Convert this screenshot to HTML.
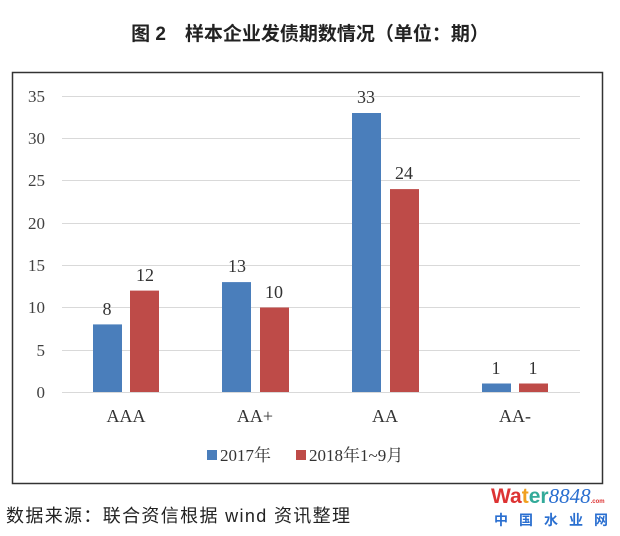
<!DOCTYPE html>
<html><head><meta charset="utf-8"><style>
body{margin:0;background:#fff;width:620px;height:536px;overflow:hidden;position:relative;font-family:"Liberation Serif","Noto Serif CJK SC",serif}
</style></head><body>
<svg width="620" height="536" style="position:absolute;left:0;top:0">
<text x="310" y="40" text-anchor="middle" font-family="Liberation Sans,Noto Sans CJK SC,sans-serif" font-weight="bold" font-size="19" fill="#222">图 2　样本企业发债期数情况（单位：期）</text>
<rect x="12.5" y="72.5" width="590" height="411" fill="none" stroke="#333" stroke-width="1.5"/>
<g stroke="#d9d9d9" stroke-width="1">
<line x1="62" x2="580" y1="96.5" y2="96.5"/><line x1="62" x2="580" y1="138.5" y2="138.5"/>
<line x1="62" x2="580" y1="180.5" y2="180.5"/><line x1="62" x2="580" y1="223.5" y2="223.5"/>
<line x1="62" x2="580" y1="265.5" y2="265.5"/><line x1="62" x2="580" y1="307.5" y2="307.5"/>
<line x1="62" x2="580" y1="350.5" y2="350.5"/><line x1="62" x2="580" y1="392.5" y2="392.5"/>
</g>
<g font-size="17" fill="#404040" text-anchor="end">
<text x="45" y="102">35</text><text x="45" y="144">30</text><text x="45" y="186">25</text><text x="45" y="229">20</text>
<text x="45" y="271">15</text><text x="45" y="313">10</text><text x="45" y="356">5</text><text x="45" y="398">0</text>
</g>
<g fill="#4a7ebb">
<rect x="93" y="324.4" width="29" height="67.6"/><rect x="222" y="282.1" width="29" height="109.9"/>
<rect x="352" y="113" width="29" height="279"/><rect x="482" y="383.5" width="29" height="8.5"/>
</g>
<g fill="#be4b48">
<rect x="130" y="290.6" width="29" height="101.4"/><rect x="260" y="307.5" width="29" height="84.5"/>
<rect x="390" y="189.1" width="29" height="202.9"/><rect x="519" y="383.5" width="29" height="8.5"/>
</g>
<g font-size="18" fill="#333" text-anchor="middle">
<text x="107" y="315">8</text><text x="145" y="281">12</text>
<text x="237" y="272">13</text><text x="274" y="298">10</text>
<text x="366" y="103">33</text><text x="404" y="179">24</text>
<text x="496" y="374">1</text><text x="533" y="374">1</text>
</g>
<g font-size="18" fill="#333" text-anchor="middle">
<text x="126" y="422">AAA</text><text x="255" y="422">AA+</text><text x="385" y="422">AA</text><text x="515" y="422">AA-</text>
</g>
<rect x="207" y="450" width="10" height="10" fill="#4a7ebb"/>
<text x="220" y="461" font-size="17" fill="#333">2017年</text>
<rect x="296" y="450" width="10" height="10" fill="#be4b48"/>
<text x="309" y="461" font-size="17" fill="#333">2018年1~9月</text>
<text x="6" y="522" font-family="Liberation Sans,Noto Sans CJK SC,sans-serif" font-size="18" fill="#222" textLength="344" lengthAdjust="spacing">数据来源：联合资信根据 wind 资讯整理</text>
<text x="491" y="503" font-family="Liberation Sans,sans-serif" font-weight="bold" font-size="21"><tspan fill="#d33">Wa</tspan><tspan fill="#f0a020">t</tspan><tspan fill="#3a9">er</tspan><tspan fill="#2a6fd0" font-family="Liberation Serif,serif" font-style="italic" font-weight="normal">8848</tspan><tspan fill="#d33" font-size="6">.com</tspan></text>
<text x="494" y="525" font-family="Noto Sans CJK SC,sans-serif" font-weight="bold" font-size="14" fill="#2a6fd0" letter-spacing="11">中国水业网</text>
</svg>
</body></html>
